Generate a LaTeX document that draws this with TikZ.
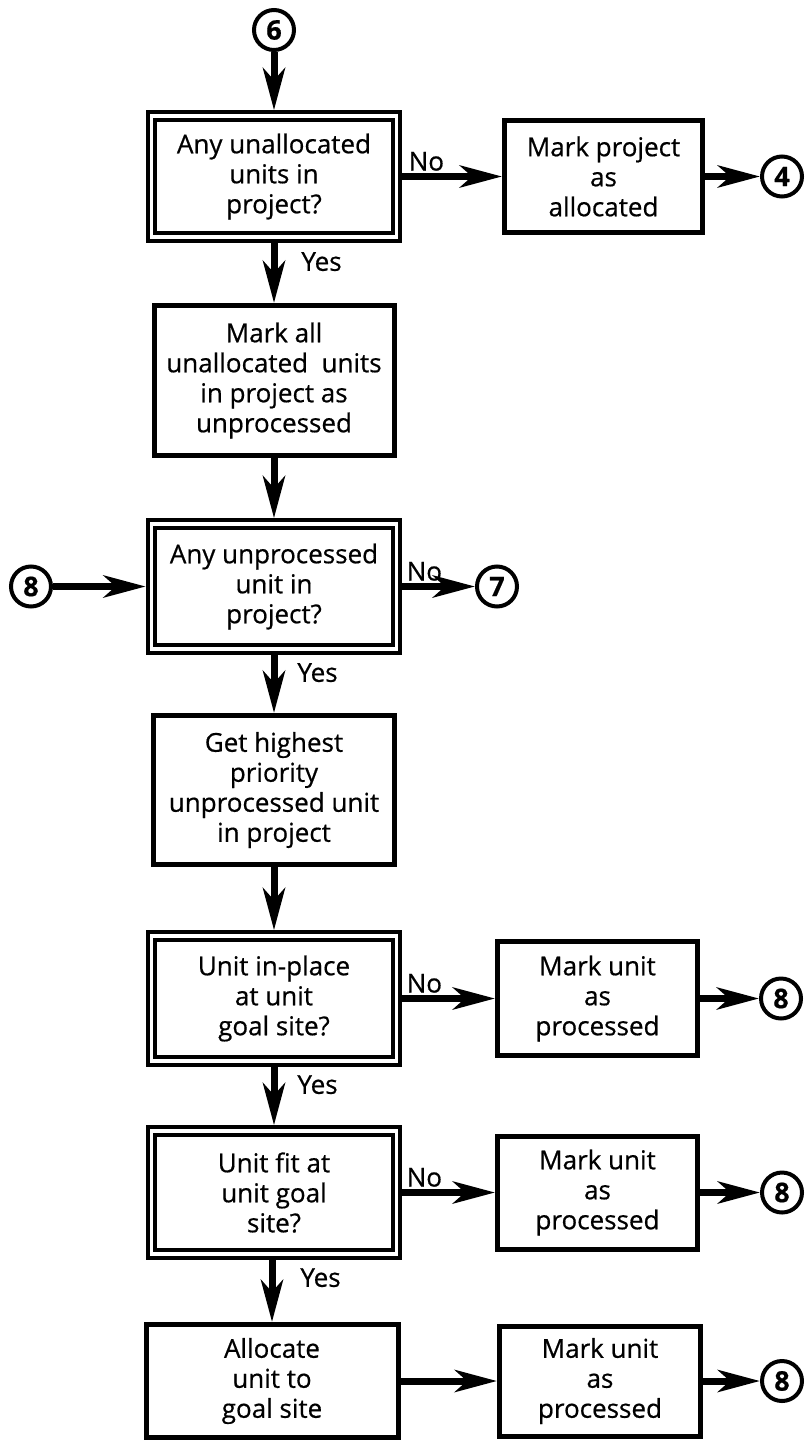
\documentclass[tikz,border=0pt]{standalone}
\usepackage{fontspec}
\setmainfont{Open Sans}[FakeBold=0.6]
\usetikzlibrary{arrows.meta,calc}
\begin{document}
\begin{tikzpicture}[x=0.5pt,y=-0.5pt,
  font=\fontsize{13}{15}\selectfont,
  box/.style={draw, line width=2.5pt, align=center, inner sep=0pt, outer sep=1.25pt},
  dbox/.style={draw, line width=2.1pt, double, double distance=1.6pt, align=center,
    inner sep=0pt, outer sep=2.9pt, minimum width=122.5pt},
  conn/.style={draw, circle, line width=2pt, minimum size=20pt, inner sep=0pt,
    font=\fontsize{13.5}{15}\selectfont\bfseries},
  arr/.style={line width=3.5pt, -{Stealth[length=21pt,width=11pt,inset=6pt]}},
  lbl/.style={inner sep=0pt, anchor=base west},
]
\useasboundingbox (0,0) rectangle (804,1445);

% decision and process boxes
\node[conn] (c6) at (274,30) {6};
\node[dbox, minimum height=60.5pt] (b1) at (274,176.5) {Any unallocated\\units in\\project?};
\node[box, minimum width=99pt, minimum height=56pt] (r1) at (603.5,176.5) {Mark project\\as\\allocated};
\node[conn] (c4) at (782,176.5) {4};

\node[box, minimum width=120pt, minimum height=75pt] (b2) at (274,380.5)
  {Mark all\\unallocated\ \ units\\in project as\\unprocessed};

\node[dbox, minimum height=62.5pt] (b3) at (274,586.5) {Any unprocessed\\unit in\\project?};
\node[conn] (c8a) at (31,586.5) {8};
\node[conn] (c7) at (497,586.5) {7};

\node[box, minimum width=120.5pt, minimum height=74.5pt] (b4) at (274,790)
  {Get highest\\priority\\unprocessed unit\\in project};

\node[dbox, minimum height=62.5pt] (b5) at (274,998.5) {Unit in-place\\at unit\\goal site?};
\node[box, minimum width=100pt, minimum height=57pt] (r2) at (597.5,998.5) {Mark unit\\as\\processed};
\node[conn] (c8b) at (781,998.5) {8};

\node[dbox, minimum height=61.5pt] (b6) at (274,1192.5) {Unit fit at\\unit goal\\site?};
\node[box, minimum width=100pt, minimum height=56.5pt] (r3) at (597.5,1192.5) {Mark unit\\as\\processed};
\node[conn] (c8c) at (782,1192.5) {8};

\node[box, minimum width=126pt, minimum height=56.5pt] (b7) at (272,1381) {Allocate\\unit to\\goal site};
\node[box, minimum width=100.5pt, minimum height=55pt] (r4) at (600,1381) {Mark unit\\as\\processed};
\node[conn] (c8d) at (782,1381) {8};

% connectors
\draw[arr] (c6) -- (b1);
\draw[arr] (b1) -- (r1);
\draw[arr] (r1) -- (c4);
\draw[arr] (b1) -- (b2);
\draw[arr] (b2) -- (b3);
\draw[arr] (c8a) -- (b3);
\draw[arr] (b3) -- (c7);
\draw[arr] (b3) -- (b4);
\draw[arr] (b4) -- (b5);
\draw[arr] (b5) -- (r2);
\draw[arr] (r2) -- (c8b);
\draw[arr] (b5) -- (b6);
\draw[arr] (b6) -- (r3);
\draw[arr] (r3) -- (c8c);
\draw[arr] (b6.south -| b7.north) -- (b7);
\draw[arr] (b7) -- (r4);
\draw[arr] (r4) -- (c8d);

% branch labels
\node[lbl] (no1) at ($(b1.east)+(6,-6)$) {No};
\node[lbl] (no3) at ($(b3.east)+(4,-6)$) {No};
\node[lbl] (no5) at ($(b5.east)+(4,-6)$) {No};
\node[lbl] (no6) at ($(b6.east)+(4,-6)$) {No};
\node[lbl] (yes1) at ($(b1.south)+(27,28)$) {Yes};
\node[lbl] (yes3) at ($(b3.south)+(23,27)$) {Yes};
\node[lbl] (yes5) at ($(b5.south)+(23,27)$) {Yes};
\node[lbl] (yes6) at ($(b6.south)+(26,27)$) {Yes};
\end{tikzpicture}
\end{document}
